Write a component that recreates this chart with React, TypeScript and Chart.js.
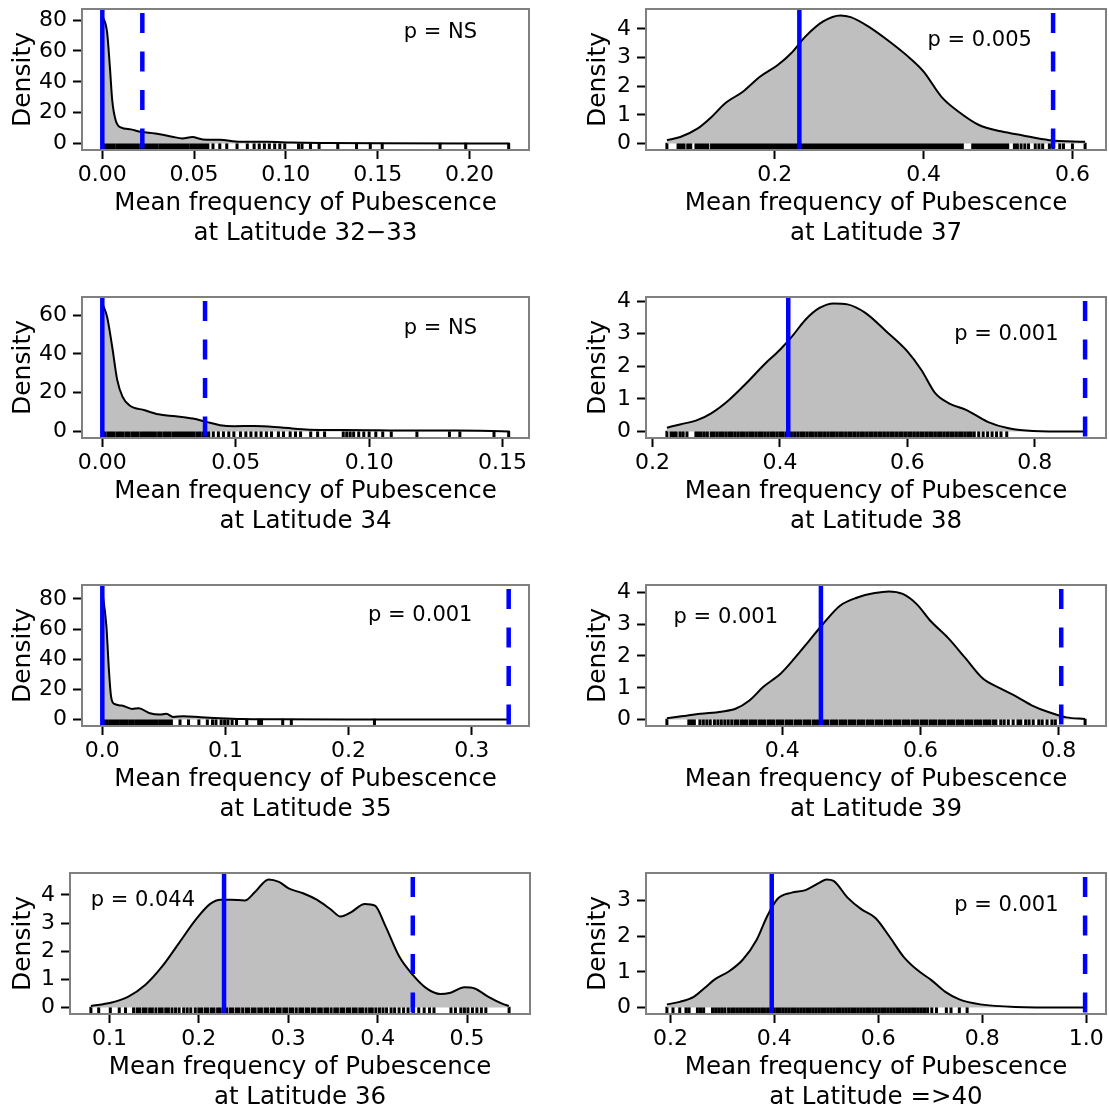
import React, { useEffect, useRef } from "react";
import { Chart, registerables } from "chart.js";

Chart.register(...registerables);

// ---------------- data ----------------
const latitudes = ["32\u221233", "34", "35", "36", "37", "38", "39", "=>40"];
const pLabels = ["p = NS", "p = NS", "p = 0.001", "p = 0.044", "p = 0.005", "p = 0.001", "p = 0.001", "p = 0.001"];
const solidValues = [0, 0, 0, 0.2282, 0.233, 0.413, 0.456, 0.395];
const dashedValues = [0.0218, 0.0385, 0.33, 0.4393, 0.574, 0.879, 0.8035, 0.998];

const xTicks3233 = ["0.00", "0.05", "0.10", "0.15", "0.20"];
const xTicks34 = ["0.00", "0.05", "0.10", "0.15"];
const xTicks35 = ["0.0", "0.1", "0.2", "0.3"];
const xTicks36 = ["0.1", "0.2", "0.3", "0.4", "0.5"];
const xTicks37 = ["0.2", "0.4", "0.6"];
const xTicks38 = ["0.2", "0.4", "0.6", "0.8"];
const xTicks39 = ["0.4", "0.6", "0.8"];
const xTicks40 = ["0.2", "0.4", "0.6", "0.8", "1.0"];

const yTicks3233 = ["0", "20", "40", "60", "80"];
const yTicks34 = ["0", "20", "40", "60"];
const yTicks35 = ["0", "20", "40", "60", "80"];
const yTicks36 = ["0", "1", "2", "3", "4"];
const yTicks37 = ["0", "1", "2", "3", "4"];
const yTicks38 = ["0", "1", "2", "3", "4"];
const yTicks39 = ["0", "1", "2", "3", "4"];
const yTicks40 = ["0", "1", "2", "3"];

const curve3233X = [0, 0.0026, 0.0041, 0.0054, 0.0073, 0.01, 0.0156, 0.021, 0.0287, 0.038, 0.0436, 0.049, 0.0547, 0.064, 0.075, 0.09, 0.103, 0.122, 0.15, 0.2214];
const curve3233Y = [83, 72, 50, 28, 15, 10.5, 9.2, 7.6, 6.5, 4.5, 3.3, 4.2, 2.7, 2.5, 1.2, 1.2, 0.7, 0.4, 0.2, 0.05];

const curve34X = [0, 0.0018, 0.0037, 0.0056, 0.0076, 0.0101, 0.0159, 0.021, 0.0275, 0.0339, 0.039, 0.0441, 0.0493, 0.057, 0.0672, 0.0775, 0.0903, 0.103, 0.116, 0.1327, 0.1523];
const curve34Y = [66, 59, 43.7, 26.5, 17.9, 13.6, 11, 8.9, 7.9, 6.7, 5, 3.3, 2.75, 2.9, 2.1, 1.0, 0.86, 0.7, 0.5, 0.5, 0.1];

const curve35X = [0, 0.0033, 0.0053, 0.007, 0.0097, 0.0158, 0.0242, 0.0297, 0.038, 0.0464, 0.052, 0.0575, 0.066, 0.08, 0.091, 0.113, 0.141, 0.197, 0.33];
const curve35Y = [85, 62, 33.6, 15.9, 10.4, 9.3, 7.1, 7.5, 4.4, 3.3, 3.8, 1.8, 2.2, 1.5, 1.1, 0.44, 0.2, 0.05, 0];

const curve36X = [0.0793, 0.1015, 0.1207, 0.14, 0.159, 0.178, 0.197, 0.2127, 0.2244, 0.2359, 0.2513, 0.2628, 0.278, 0.2896, 0.301, 0.3165, 0.3319, 0.347, 0.3587, 0.37, 0.3856, 0.397, 0.4086, 0.424, 0.4393, 0.4547, 0.47, 0.4816, 0.497, 0.5085, 0.5239, 0.5392, 0.5468];
const curve36Y = [0.06, 0.17, 0.38, 0.8, 1.46, 2.3, 3.14, 3.68, 3.83, 3.83, 3.8, 4.1, 4.55, 4.46, 4.22, 4.06, 3.83, 3.5, 3.23, 3.38, 3.68, 3.62, 2.9, 1.82, 1.16, 0.68, 0.48, 0.53, 0.72, 0.68, 0.38, 0.14, 0.06];

const curve37X = [0.055, 0.073, 0.096, 0.115, 0.133, 0.157, 0.18, 0.204, 0.222, 0.241, 0.265, 0.288, 0.302, 0.326, 0.354, 0.382, 0.4, 0.424, 0.447, 0.475, 0.504, 0.532, 0.569, 0.617];
const curve37Y = [0.12, 0.23, 0.52, 0.93, 1.4, 1.81, 2.33, 2.74, 3.15, 3.73, 4.26, 4.47, 4.41, 4.08, 3.56, 2.97, 2.51, 1.63, 1.11, 0.64, 0.43, 0.29, 0.12, 0.06];

const curve38X = [0.2225, 0.243, 0.27, 0.292, 0.32, 0.347, 0.375, 0.4, 0.419, 0.44, 0.462, 0.484, 0.506, 0.534, 0.567, 0.6, 0.622, 0.644, 0.666, 0.693, 0.726, 0.759, 0.797, 0.879];
const curve38Y = [0.12, 0.22, 0.35, 0.56, 0.97, 1.48, 2.05, 2.51, 2.92, 3.43, 3.79, 3.93, 3.9, 3.64, 3.07, 2.46, 1.89, 1.17, 0.86, 0.66, 0.3, 0.1, 0.02, 0];

const curve39X = [0.2333, 0.257, 0.282, 0.312, 0.3325, 0.3526, 0.3728, 0.398, 0.418, 0.4383, 0.4584, 0.4836, 0.5088, 0.534, 0.5542, 0.5743, 0.5945, 0.6146, 0.6398, 0.665, 0.6902, 0.7154, 0.7355, 0.7607, 0.7859, 0.811, 0.8378];
const curve39Y = [0.04, 0.11, 0.18, 0.25, 0.34, 0.6, 1.03, 1.45, 1.93, 2.46, 2.99, 3.58, 3.84, 3.98, 4.03, 3.95, 3.63, 3.1, 2.57, 1.93, 1.29, 0.98, 0.76, 0.45, 0.23, 0.07, 0.02];

const curve40X = [0.1933, 0.2182, 0.245, 0.2652, 0.2854, 0.3123, 0.3392, 0.3661, 0.3862, 0.4064, 0.4333, 0.4602, 0.4871, 0.5005, 0.514, 0.5409, 0.5678, 0.5946, 0.6215, 0.6484, 0.6753, 0.7022, 0.7291, 0.756, 0.7963, 0.8635, 0.998];
const curve40Y = [0.09, 0.16, 0.3, 0.54, 0.79, 1.01, 1.34, 1.9, 2.56, 3.05, 3.22, 3.29, 3.5, 3.59, 3.55, 3.08, 2.75, 2.51, 1.99, 1.43, 1.05, 0.77, 0.44, 0.23, 0.09, 0.02, 0];

const rug3233 = [0, 0.0008, 0.0021, 0.0035, 0.0049, 0.0061, 0.0078, 0.0092, 0.0105, 0.0121, 0.0137, 0.015, 0.0166, 0.0181, 0.0193, 0.021, 0.0226, 0.0239, 0.0255, 0.027, 0.0284, 0.0299, 0.0316, 0.033, 0.0345, 0.0361, 0.0377, 0.039, 0.0406, 0.0421, 0.0437, 0.0452, 0.0466, 0.0483, 0.0497, 0.0512, 0.0528, 0.0543, 0.0559, 0.0575, 0.0603, 0.064, 0.0678, 0.0734, 0.079, 0.0827, 0.0855, 0.0883, 0.091, 0.0939, 0.0967, 0.0994, 0.1069, 0.1088, 0.1134, 0.1181, 0.1283, 0.1385, 0.146, 0.1525, 0.184, 0.198, 0.2214];

const rug34 = [0, 0.001, 0.0022, 0.0033, 0.0043, 0.0055, 0.0066, 0.0077, 0.0089, 0.0099, 0.0111, 0.0122, 0.0132, 0.0144, 0.0155, 0.0166, 0.0177, 0.0188, 0.0199, 0.0211, 0.0221, 0.0233, 0.0244, 0.0254, 0.0266, 0.0277, 0.0288, 0.0299, 0.031, 0.0321, 0.0332, 0.0343, 0.0355, 0.0365, 0.0377, 0.0388, 0.0399, 0.0416, 0.0435, 0.0454, 0.0474, 0.0493, 0.0518, 0.0538, 0.0557, 0.0576, 0.0595, 0.0615, 0.0634, 0.066, 0.0679, 0.0704, 0.0724, 0.0743, 0.0781, 0.0807, 0.0833, 0.0903, 0.0916, 0.0929, 0.0942, 0.0961, 0.098, 0.1, 0.1025, 0.1051, 0.1083, 0.1179, 0.1301, 0.134, 0.1468, 0.1523];

const rug35 = [0, 0.0013, 0.0036, 0.0061, 0.0084, 0.0108, 0.0131, 0.0156, 0.0179, 0.0203, 0.0228, 0.0251, 0.0276, 0.0299, 0.0323, 0.0347, 0.0371, 0.0395, 0.0419, 0.0442, 0.0467, 0.049, 0.0514, 0.0538, 0.0561, 0.0631, 0.07, 0.0784, 0.0853, 0.0895, 0.0923, 0.0965, 0.0993, 0.102, 0.1054, 0.109, 0.1173, 0.127, 0.1293, 0.1465, 0.1535, 0.221];

const rug36 = [0.0793, 0.088, 0.101, 0.111, 0.118, 0.127, 0.131, 0.134, 0.138, 0.141, 0.145, 0.148, 0.152, 0.156, 0.159, 0.163, 0.166, 0.17, 0.174, 0.178, 0.183, 0.187, 0.191, 0.196, 0.2, 0.203, 0.207, 0.21, 0.214, 0.217, 0.221, 0.224, 0.228, 0.231, 0.235, 0.238, 0.242, 0.245, 0.249, 0.253, 0.256, 0.26, 0.263, 0.267, 0.27, 0.274, 0.277, 0.281, 0.284, 0.288, 0.291, 0.295, 0.298, 0.302, 0.305, 0.309, 0.313, 0.316, 0.32, 0.323, 0.327, 0.33, 0.334, 0.337, 0.341, 0.344, 0.348, 0.352, 0.355, 0.359, 0.362, 0.366, 0.369, 0.373, 0.376, 0.38, 0.383, 0.387, 0.391, 0.394, 0.398, 0.402, 0.406, 0.41, 0.415, 0.419, 0.424, 0.429, 0.434, 0.44, 0.446, 0.452, 0.458, 0.463, 0.482, 0.487, 0.493, 0.497, 0.501, 0.506, 0.511, 0.516, 0.521, 0.547];

const rug37 = [0.055, 0.07, 0.074, 0.078, 0.083, 0.087, 0.094, 0.098, 0.102, 0.106, 0.11, 0.115, 0.119, 0.122, 0.126, 0.129, 0.133, 0.137, 0.141, 0.145, 0.148, 0.152, 0.156, 0.16, 0.164, 0.167, 0.171, 0.175, 0.179, 0.183, 0.186, 0.19, 0.194, 0.198, 0.202, 0.205, 0.209, 0.213, 0.217, 0.221, 0.224, 0.228, 0.232, 0.236, 0.24, 0.243, 0.247, 0.251, 0.255, 0.259, 0.262, 0.266, 0.27, 0.274, 0.278, 0.281, 0.285, 0.289, 0.293, 0.297, 0.3, 0.304, 0.308, 0.312, 0.316, 0.319, 0.323, 0.327, 0.331, 0.335, 0.338, 0.342, 0.346, 0.35, 0.354, 0.357, 0.361, 0.365, 0.369, 0.373, 0.376, 0.38, 0.384, 0.388, 0.392, 0.395, 0.399, 0.403, 0.407, 0.411, 0.414, 0.418, 0.422, 0.426, 0.43, 0.433, 0.437, 0.441, 0.445, 0.449, 0.452, 0.466, 0.47, 0.474, 0.478, 0.482, 0.486, 0.49, 0.494, 0.498, 0.502, 0.506, 0.51, 0.513, 0.522, 0.526, 0.531, 0.536, 0.541, 0.55, 0.555, 0.56, 0.569, 0.574, 0.583, 0.588, 0.6, 0.617];

const rug38 = [0.2225, 0.229, 0.233, 0.237, 0.243, 0.248, 0.254, 0.268, 0.272, 0.276, 0.281, 0.286, 0.292, 0.296, 0.301, 0.306, 0.31, 0.315, 0.32, 0.324, 0.329, 0.334, 0.339, 0.343, 0.348, 0.353, 0.357, 0.362, 0.367, 0.371, 0.376, 0.381, 0.386, 0.39, 0.395, 0.4, 0.404, 0.409, 0.414, 0.418, 0.423, 0.428, 0.433, 0.437, 0.442, 0.447, 0.451, 0.456, 0.461, 0.465, 0.47, 0.475, 0.48, 0.484, 0.489, 0.494, 0.498, 0.503, 0.508, 0.512, 0.517, 0.522, 0.527, 0.531, 0.536, 0.541, 0.545, 0.55, 0.555, 0.559, 0.564, 0.569, 0.574, 0.578, 0.583, 0.588, 0.592, 0.597, 0.602, 0.606, 0.611, 0.616, 0.621, 0.625, 0.63, 0.635, 0.639, 0.644, 0.649, 0.653, 0.658, 0.663, 0.668, 0.672, 0.677, 0.682, 0.686, 0.691, 0.696, 0.7, 0.705, 0.712, 0.719, 0.726, 0.733, 0.74, 0.747, 0.756];

const rug39 = [0.2333, 0.265, 0.269, 0.273, 0.281, 0.286, 0.291, 0.296, 0.302, 0.307, 0.312, 0.317, 0.322, 0.327, 0.332, 0.336, 0.341, 0.345, 0.349, 0.354, 0.358, 0.362, 0.367, 0.371, 0.375, 0.38, 0.384, 0.388, 0.393, 0.397, 0.401, 0.406, 0.41, 0.414, 0.419, 0.423, 0.427, 0.432, 0.436, 0.44, 0.445, 0.449, 0.453, 0.458, 0.462, 0.466, 0.471, 0.475, 0.479, 0.484, 0.488, 0.492, 0.497, 0.501, 0.505, 0.51, 0.514, 0.518, 0.523, 0.527, 0.531, 0.536, 0.54, 0.544, 0.549, 0.553, 0.557, 0.562, 0.566, 0.57, 0.575, 0.579, 0.583, 0.588, 0.592, 0.596, 0.601, 0.605, 0.609, 0.614, 0.618, 0.622, 0.627, 0.631, 0.635, 0.64, 0.644, 0.648, 0.653, 0.657, 0.661, 0.666, 0.67, 0.674, 0.679, 0.683, 0.687, 0.692, 0.696, 0.7, 0.705, 0.709, 0.716, 0.721, 0.727, 0.734, 0.741, 0.745, 0.752, 0.757, 0.763, 0.771, 0.776, 0.783, 0.79, 0.795, 0.838];

const rug40 = [0.1933, 0.205, 0.218, 0.23, 0.236, 0.252, 0.258, 0.264, 0.281, 0.287, 0.293, 0.299, 0.305, 0.312, 0.318, 0.323, 0.329, 0.335, 0.341, 0.347, 0.352, 0.358, 0.364, 0.37, 0.376, 0.381, 0.387, 0.393, 0.399, 0.405, 0.41, 0.416, 0.422, 0.428, 0.434, 0.439, 0.445, 0.451, 0.457, 0.463, 0.468, 0.474, 0.48, 0.486, 0.492, 0.497, 0.503, 0.509, 0.515, 0.521, 0.526, 0.532, 0.538, 0.544, 0.55, 0.555, 0.561, 0.567, 0.573, 0.579, 0.584, 0.59, 0.596, 0.602, 0.608, 0.613, 0.619, 0.625, 0.631, 0.637, 0.642, 0.648, 0.654, 0.66, 0.666, 0.671, 0.677, 0.683, 0.689, 0.695, 0.703, 0.712, 0.731, 0.74, 0.756, 0.771];

const panelData = [
  { xTicks: xTicks3233, yTicks: yTicks3233, cx: curve3233X, cy: curve3233Y, rug: rug3233 },
  { xTicks: xTicks34, yTicks: yTicks34, cx: curve34X, cy: curve34Y, rug: rug34 },
  { xTicks: xTicks35, yTicks: yTicks35, cx: curve35X, cy: curve35Y, rug: rug35 },
  { xTicks: xTicks36, yTicks: yTicks36, cx: curve36X, cy: curve36Y, rug: rug36 },
  { xTicks: xTicks37, yTicks: yTicks37, cx: curve37X, cy: curve37Y, rug: rug37 },
  { xTicks: xTicks38, yTicks: yTicks38, cx: curve38X, cy: curve38Y, rug: rug38 },
  { xTicks: xTicks39, yTicks: yTicks39, cx: curve39X, cy: curve39Y, rug: rug39 },
  { xTicks: xTicks40, yTicks: yTicks40, cx: curve40X, cy: curve40Y, rug: rug40 },
];

// ---------------- layout ----------------
const FONT = '"DejaVu Sans", "Liberation Sans", sans-serif';
const BOX_TOPS = [9, 297, 585, 873];
const BOX_H = 141;
const CANVAS_H = 250;

const layouts = [
  { row: 0, left: 0, width: 560, yW: 82, padR: 31, fx: 0.72, fy: 0.17 },
  { row: 1, left: 0, width: 560, yW: 82, padR: 31, fx: 0.72, fy: 0.225 },
  { row: 2, left: 0, width: 560, yW: 82, padR: 31, fx: 0.64, fy: 0.215 },
  { row: 3, left: 0, width: 560, yW: 70, padR: 30, fx: 0.045, fy: 0.195 },
  { row: 0, left: 575, width: 534, yW: 71, padR: 3, fx: 0.612, fy: 0.225 },
  { row: 1, left: 575, width: 534, yW: 71, padR: 3, fx: 0.67, fy: 0.265 },
  { row: 2, left: 575, width: 534, yW: 71, padR: 3, fx: 0.06, fy: 0.23 },
  { row: 3, left: 575, width: 534, yW: 71, padR: 3, fx: 0.67, fy: 0.23 },
];

function Panel({ idx }: { idx: number }) {
  const ref = useRef<HTMLCanvasElement>(null);
  const L = layouts[idx];
  const top = BOX_TOPS[L.row] - 9;

  useEffect(() => {
    const d = panelData[idx];
    const solid = solidValues[idx];
    const dashed = dashedValues[idx];
    const maxY = Math.max(...d.cy);
    const xs = [...d.cx, ...d.rug, solid, dashed];
    const lo = Math.min(...xs);
    const hi = Math.max(...xs);
    const m = 0.05 * (hi - lo);
    const xTickVals = d.xTicks.map(Number);
    const yTickVals = d.yTicks.map(Number);

    const overlay = {
      id: "overlay" + idx,
      beforeDatasetsDraw(chart: any) {
        const { ctx, chartArea: a, scales } = chart;
        const xs2 = scales.x;
        ctx.save();
        ctx.strokeStyle = "#000";
        ctx.lineWidth = 3;
        const rugTop = a.bottom - 0.052 * (a.bottom - a.top);
        ctx.beginPath();
        for (const v of d.rug) {
          const px = xs2.getPixelForValue(v);
          ctx.moveTo(px, a.bottom);
          ctx.lineTo(px, rugTop);
        }
        ctx.stroke();
        ctx.restore();
      },
      afterDatasetsDraw(chart: any) {
        const { ctx, chartArea: a, scales } = chart;
        const xs2 = scales.x;
        ctx.save();
        ctx.beginPath();
        ctx.rect(a.left, a.top, a.right - a.left, a.bottom - a.top);
        ctx.clip();
        ctx.strokeStyle = "#0000ff";
        ctx.lineWidth = 4.5;
        ctx.lineCap = "butt";
        let px = xs2.getPixelForValue(solid);
        ctx.setLineDash([]);
        ctx.beginPath();
        ctx.moveTo(px, a.bottom);
        ctx.lineTo(px, a.top);
        ctx.stroke();
        px = xs2.getPixelForValue(dashed);
        ctx.setLineDash([20, 18.5]);
        ctx.lineDashOffset = -1.5;
        ctx.beginPath();
        ctx.moveTo(px, a.bottom);
        ctx.lineTo(px, a.top);
        ctx.stroke();
        ctx.restore();

        ctx.save();
        ctx.strokeStyle = "#808080";
        ctx.lineWidth = 2;
        ctx.strokeRect(a.left, a.top, a.right - a.left, a.bottom - a.top);
        ctx.fillStyle = "#000";
        ctx.font = "21px " + FONT;
        ctx.textAlign = "left";
        ctx.textBaseline = "middle";
        ctx.fillText(pLabels[idx], a.left + L.fx * (a.right - a.left), a.top + L.fy * (a.bottom - a.top));
        ctx.restore();
      },
    };

    const chart = new Chart(ref.current as HTMLCanvasElement, {
      type: "line",
      data: {
        datasets: [
          {
            data: d.cx.map((x, i) => ({ x, y: d.cy[i] })),
            borderColor: "#000",
            borderWidth: 2,
            backgroundColor: "#bfbfbf",
            fill: "origin",
            pointRadius: 0,
            cubicInterpolationMode: "monotone",
          } as any,
        ],
      },
      options: {
        animation: false,
        responsive: false,
        devicePixelRatio: 1,
        events: [],
        layout: { padding: { top: 9, right: L.padR, left: 0, bottom: 0 } },
        plugins: { legend: { display: false }, tooltip: { enabled: false } },
        scales: {
          x: {
            type: "linear",
            min: lo - m,
            max: hi + m,
            afterBuildTicks: (s: any) => {
              s.ticks = xTickVals.map((v) => ({ value: v }));
            },
            afterFit: (s: any) => {
              s.height = CANVAS_H - 9 - BOX_H;
              s.paddingLeft = 0;
              s.paddingRight = 0;
            },
            ticks: {
              autoSkip: false,
              maxRotation: 0,
              minRotation: 0,
              padding: 3,
              color: "#000",
              font: { family: FONT, size: 22 },
              callback: (_v: any, i: number) => d.xTicks[i],
            },
            grid: { display: true, drawOnChartArea: false, drawTicks: true, tickLength: 9, tickWidth: 2, tickColor: "#000" },
            border: { display: false },
            title: {
              display: true,
              text: ["Mean frequency of Pubescence", "at Latitude " + latitudes[idx]],
              color: "#000",
              font: { family: FONT, size: 24.5 },
              padding: { top: 0, bottom: 2 },
            },
          },
          y: {
            type: "linear",
            min: -0.05 * maxY,
            max: 1.05 * maxY,
            afterBuildTicks: (s: any) => {
              s.ticks = yTickVals.map((v) => ({ value: v }));
            },
            afterFit: (s: any) => {
              s.width = L.yW;
              s.paddingTop = 0;
              s.paddingBottom = 0;
            },
            ticks: {
              autoSkip: false,
              padding: 6,
              color: "#000",
              font: { family: FONT, size: 22 },
              callback: (_v: any, i: number) => d.yTicks[i],
            },
            grid: { display: true, drawOnChartArea: false, drawTicks: true, tickLength: 9, tickWidth: 2, tickColor: "#000" },
            border: { display: false },
            title: {
              display: true,
              text: "Density",
              color: "#000",
              font: { family: FONT, size: 25 },
              padding: { top: 8, bottom: 0 },
            },
          },
        },
      } as any,
      plugins: [overlay],
    });
    return () => chart.destroy();
  }, [idx]);

  return (
    <canvas
      ref={ref}
      width={L.width}
      height={CANVAS_H}
      style={{ position: "absolute", left: L.left, top, width: L.width, height: CANVAS_H }}
    />
  );
}

export default function App() {
  return (
    <div
      style={{
        position: "fixed",
        left: 0,
        top: 0,
        width: 1109,
        height: 1109,
        overflow: "hidden",
        background: "#fff",
      }}
    >
      {panelData.map((_, i) => (
        <Panel key={i} idx={i} />
      ))}
    </div>
  );
}
